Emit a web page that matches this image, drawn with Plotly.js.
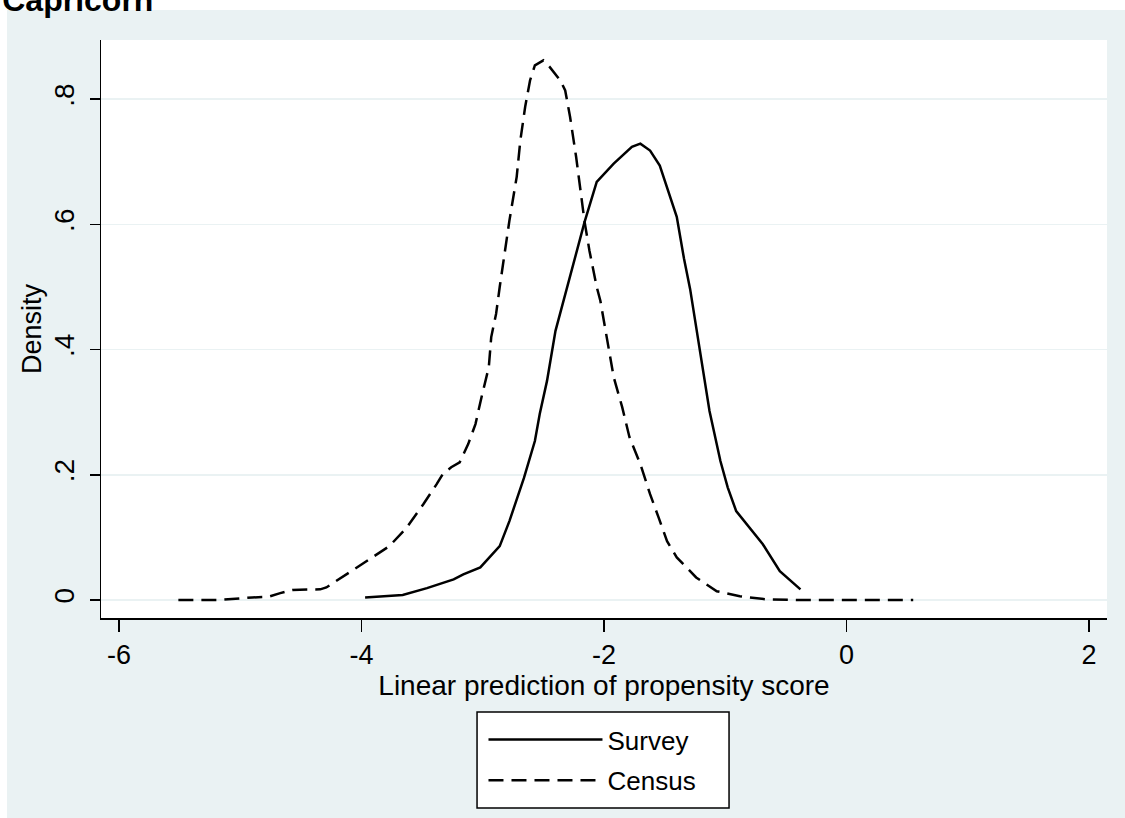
<!DOCTYPE html>
<html>
<head>
<meta charset="utf-8">
<script src="https://cdn.plot.ly/plotly-3.0.1.min.js"></script>
<style>html,body{margin:0;padding:0;background:#fff;}#chart{width:1125px;height:818px;}</style>
</head>
<body>
<div id="chart"></div>
<script>
// Survey density (solid)
var surveyX = [-3.97, -3.66, -3.46, -3.24, -3.16, -3.02, -2.86, -2.78, -2.66, -2.57, -2.53, -2.47, -2.40, -2.31, -2.23, -2.16, -2.06, -1.92, -1.77, -1.70, -1.62, -1.54, -1.40, -1.34, -1.29, -1.21, -1.13, -1.04, -0.98, -0.91, -0.80, -0.69, -0.55, -0.38];
var surveyY = [0.004, 0.008, 0.019, 0.033, 0.041, 0.052, 0.086, 0.126, 0.195, 0.254, 0.297, 0.350, 0.430, 0.497, 0.553, 0.604, 0.668, 0.697, 0.724, 0.729, 0.718, 0.694, 0.612, 0.545, 0.497, 0.398, 0.302, 0.222, 0.180, 0.142, 0.116, 0.089, 0.046, 0.017];
// Census density (dashed)
var censusX = [-5.51, -5.17, -4.90, -4.77, -4.67, -4.57, -4.34, -4.29, -4.10, -3.93, -3.77, -3.63, -3.49, -3.38, -3.33, -3.26, -3.19, -3.12, -3.06, -3.01, -2.95, -2.93, -2.89, -2.86, -2.78, -2.72, -2.69, -2.65, -2.61, -2.57, -2.50, -2.45, -2.36, -2.32, -2.28, -2.23, -2.18, -2.16, -2.12, -2.06, -2.03, -1.98, -1.92, -1.85, -1.79, -1.70, -1.62, -1.55, -1.48, -1.40, -1.24, -1.07, -0.88, -0.66, -0.38, 0.55];
var censusY = [0, 0, 0.004, 0.005, 0.011, 0.016, 0.017, 0.020, 0.044, 0.066, 0.086, 0.115, 0.153, 0.185, 0.201, 0.212, 0.220, 0.249, 0.281, 0.324, 0.372, 0.420, 0.457, 0.500, 0.606, 0.676, 0.734, 0.788, 0.830, 0.854, 0.862, 0.852, 0.830, 0.814, 0.772, 0.708, 0.638, 0.604, 0.558, 0.500, 0.478, 0.425, 0.356, 0.308, 0.260, 0.217, 0.169, 0.132, 0.094, 0.068, 0.036, 0.014, 0.006, 0.001, 0, 0];

var seriesNames = ["Survey", "Census"];
var xTickVals = [-6, -4, -2, 0, 2];
var xTickText = ["-6", "-4", "-2", "0", "2"];
var yTickVals = [0, 0.2, 0.4, 0.6, 0.8];
var yTickText = ["0", ".2", ".4", ".6", ".8"];
var chartTitle = "Capricorn";
var xTitle = "Linear prediction of propensity score";
var yTitle = "Density";

var FONT = "Liberation Sans, Arial, Helvetica, sans-serif";
var BG = "#EAF2F3";

var traces = [
  {x: surveyX, y: surveyY, name: seriesNames[0], legendgroup: "g1", type: "scatter", mode: "lines",
   line: {color: "#000", width: 2.5, dash: "solid"}},
  {x: censusX, y: censusY, name: seriesNames[1], legendgroup: "g2", type: "scatter", mode: "lines",
   line: {color: "#000", width: 2.5, dash: "15px,8px"}}
];

var layout = {
  width: 1125, height: 818,
  paper_bgcolor: BG, plot_bgcolor: "#fff",
  margin: {l: 101, r: 18, t: 40, b: 200, pad: 0},
  font: {family: FONT, color: "#000", size: 27},
  title: {text: chartTitle, font: {family: FONT, size: 32, color: "#000", weight: "bold"},
          xref: "container", yref: "container", x: 0.002, xanchor: "left", y: 1, yanchor: "middle"},
  xaxis: {
    range: [-6.148, 2.148], tickvals: xTickVals, ticktext: xTickText,
    showgrid: false, zeroline: false, showline: true, linecolor: "#000", linewidth: 1.5,
    ticks: "outside", ticklen: 12, tickwidth: 1.5, tickcolor: "#000",
    tickfont: {size: 27}, ticklabelstandoff: 0,
    title: {text: xTitle, font: {size: 28}, standoff: 0}
  },
  yaxis: {
    range: [-0.0288, 0.8946], tickvals: yTickVals, ticktext: yTickText, tickangle: -90,
    showgrid: true, gridcolor: BG, gridwidth: 1.5, zeroline: false,
    showline: true, linecolor: "#000", linewidth: 1.5,
    ticks: "outside", ticklen: 10, tickwidth: 1.5, tickcolor: "#000",
    tickfont: {size: 28}, ticklabelstandoff: 4,
    title: {text: yTitle, font: {size: 27}, standoff: 0}
  },
  showlegend: true,
  legend: {
    x: 0.3802, xanchor: "left", y: -0.1696, yanchor: "top",
    bgcolor: "rgba(0,0,0,0)", borderwidth: 0,
    font: {size: 26}, itemwidth: 114, traceorder: "grouped", tracegroupgap: 4
  },
  shapes: [
    {type: "rect", xref: "paper", yref: "paper", x0: -0.11, x1: -0.0934, y0: -0.4, y1: 1.1, fillcolor: "#fff", line: {width: 0}, layer: "below"},
    {type: "rect", xref: "paper", yref: "paper", x0: -0.11, x1: 1.05, y0: 1.0519, y1: 1.1, fillcolor: "#fff", line: {width: 0}, layer: "below"},
    {type: "rect", xref: "paper", yref: "paper", x0: 0.3738, x1: 0.6243, y0: -0.3287, y1: -0.1626, fillcolor: "#fff", line: {width: 1.5, color: "#000"}, layer: "below"}
  ]
};

Plotly.newPlot("chart", traces, layout, {displayModeBar: false, staticPlot: true});
</script>
</body>
</html>
